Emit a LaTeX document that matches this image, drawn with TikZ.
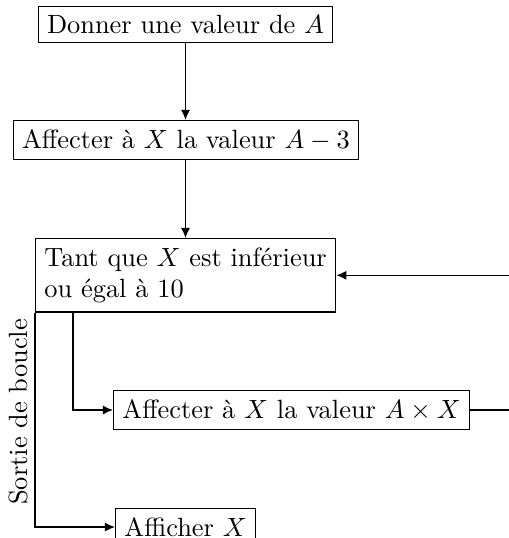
\documentclass[tikz,border=0pt]{standalone}
\usetikzlibrary{calc,arrows.meta}
\begin{document}
\begin{tikzpicture}[x=0.3788pt,y=-0.3788pt,
  line width=0.5pt,
  box/.style={draw,fill=white},
  flow/.style={-{Latex[length=3.8pt,width=3.4pt]}}]
\useasboundingbox (0,0) rectangle (508,538);
\node[box] (b1) at (185.5,24.5) {Donner une valeur de $A$};
\node[box] (b2) at (186,140) {Affecter à $X$ la valeur $A-3$};
\node[box,align=left,anchor=north west] (b3) at (35,238) {Tant que $X$ est inférieur\\ou égal à 10};
\node[box,anchor=west] (b4) at (113,410) {Affecter à $X$ la valeur $A\times X$};
\node[box,anchor=north west] (b5) at (115,508) {Afficher $X$};
\node[rotate=90] (lab) at (18,412) {Sortie de boucle};
\coordinate (r) at (520,0);
\draw[flow] (b1.south) -- (b1.south |- b2.north);
\draw[flow] (b1.south |- b2.south) -- (b1.south |- b3.north);
\draw[flow] ($(b3.south west)+(38,0)$) |- (b4.west);
\draw[flow] (b3.south west) |- (b5.west);
\draw[flow] (b4.east) -- (b4.east -| r) |- (b3.east);
\end{tikzpicture}
\end{document}
